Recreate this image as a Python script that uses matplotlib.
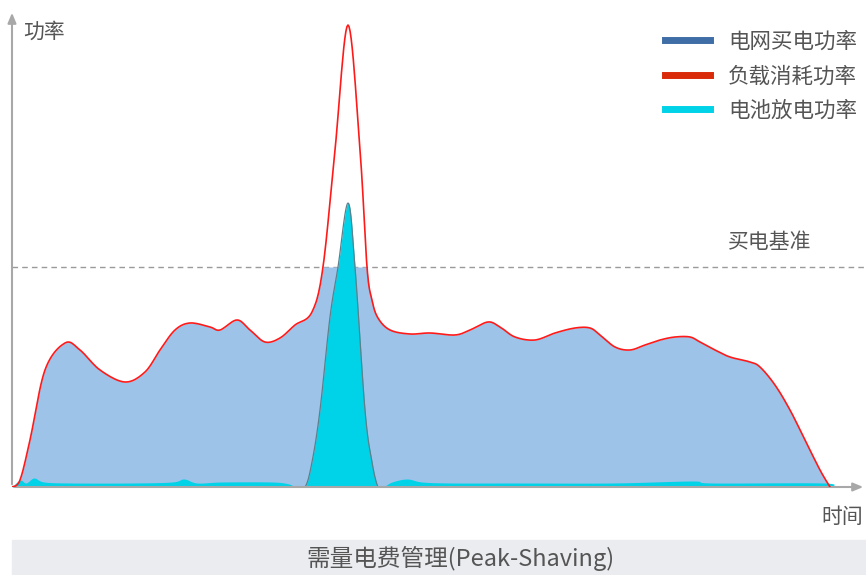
import numpy as np
import matplotlib
matplotlib.use("Agg")
import matplotlib.pyplot as plt
from matplotlib.lines import Line2D
from matplotlib.patches import Rectangle

plt.rcParams['font.family'] = ['Noto Sans CJK SC', 'DejaVu Sans']

# time index and load power (arbitrary units)
load_t = [0, 8, 18, 33, 53, 68, 88, 113, 133, 148, 163, 178, 198, 208, 225, 238,
          253, 268, 283, 300, 311, 323, 336, 348, 355, 360, 366, 378, 398, 418,
          443, 458, 476, 488, 503, 523, 543, 563, 578, 588, 603, 618, 633, 648,
          663, 678, 688, 703, 718, 738, 748, 763, 778, 793, 808, 818]
load_p = [0, 7, 47, 117, 144, 137, 117, 105, 115, 137, 157, 164, 160, 157, 167, 157,
          145, 149, 162, 175, 220, 337, 462, 337, 220, 187, 169, 157, 153, 154,
          152, 157, 165, 160, 150, 147, 154, 159, 159, 152, 140, 137, 142, 147,
          150, 150, 145, 137, 130, 125, 120, 102, 77, 47, 17, 0]

# battery discharge power
batt_t = [0, 8, 14, 22, 32, 60, 120, 160, 172, 185, 210, 260, 277, 283, 293,
          300, 308, 318, 326, 336, 343, 353, 360, 366, 371, 380, 395, 410, 440,
          500, 600, 680, 700, 812, 818]
batt_p = [0, 7, 4, 9, 5, 4, 4, 5, 8, 4, 5, 5, 3, 0, 0,
          25, 77, 170, 220, 284, 220, 77, 25, 0, 0, 5, 8, 5, 4,
          4, 4, 6, 4, 4, 0]

baseline = 220          # 买电基准
labels = ["电网买电功率", "负载消耗功率", "电池放电功率"]


def smooth(x, y, n=12):
    """Catmull-Rom curve through the points, for drawing only."""
    x = np.asarray(x, float)
    y = np.asarray(y, float)
    px = np.r_[x[0], x, x[-1]]
    py = np.r_[y[0], y, y[-1]]
    xs, ys = [], []
    s = np.linspace(0, 1, n, endpoint=False)
    for i in range(1, len(px) - 2):
        for arr, out in ((px, xs), (py, ys)):
            p0, p1, p2, p3 = arr[i - 1], arr[i], arr[i + 1], arr[i + 2]
            out.extend(0.5 * (2 * p1 + (-p0 + p2) * s
                              + (2 * p0 - 5 * p1 + 4 * p2 - p3) * s ** 2
                              + (-p0 + 3 * p1 - 3 * p2 + p3) * s ** 3))
    xs.append(x[-1])
    ys.append(y[-1])
    return np.array(xs), np.clip(np.array(ys), 0, None)


fig = plt.figure(figsize=(8.66, 5.75), dpi=100)
ax = fig.add_axes([12 / 866, 88 / 575, 854 / 866, 477 / 575])
ax.set_xlim(0, 854)
ax.set_ylim(0, 477)
ax.axis("off")

lx, ly = smooth(load_t, load_p)
bx, by = smooth(batt_t, batt_p)

ax.fill_between(lx, 0, np.minimum(ly, baseline), color="#9dc3e8", lw=0, zorder=1)
ax.fill_between(bx, 0, by, color="#00d2e8", lw=0, zorder=2)
pk = (bx >= 290) & (bx <= 369)
ax.plot(bx[pk], by[pk], color="#5e7f8c", lw=0.9, zorder=3)
ax.plot(lx, ly, color="#ff1a1a", lw=1.2, zorder=4)

ax.axhline(baseline, color="#9a9a9a", lw=1, dashes=(4, 3), zorder=0)
ax.text(758, baseline + 14, "买电基准", fontsize=15, color="#555555",
        ha="center", va="bottom")

# axes with arrows
arr = dict(arrowstyle="-|>,head_length=0.6,head_width=0.25", color="#a8a8a8", lw=1.5)
ax.annotate("", xy=(0, 477), xytext=(0, 0), arrowprops=arr, annotation_clip=False)
ax.annotate("", xy=(854, 0), xytext=(0, 0), arrowprops=arr, annotation_clip=False)
ax.text(11, 455, "功率", fontsize=15, color="#555555", va="center")
ax.text(830, -30, "时间", fontsize=15, color="#555555", ha="center", va="center")

handles = [Line2D([], [], color=c, lw=5) for c in ("#3f6ea6", "#d92a0a", "#00d2e8")]
ax.legend(handles, labels, loc="upper right", bbox_to_anchor=(1.012, 0.997),
          frameon=False, fontsize=15.5, handlelength=2.05, handletextpad=0.85,
          labelspacing=0.58, labelcolor="#555555")

fig.patches.append(Rectangle((12 / 866, 0), 854 / 866, 35 / 575,
                             transform=fig.transFigure, color="#ebecf0", zorder=0))
fig.text(461 / 866, 17 / 575, "需量电费管理(Peak-Shaving)", fontsize=17,
         color="#555555", ha="center", va="center")

fig.savefig("out.png", dpi=100)
